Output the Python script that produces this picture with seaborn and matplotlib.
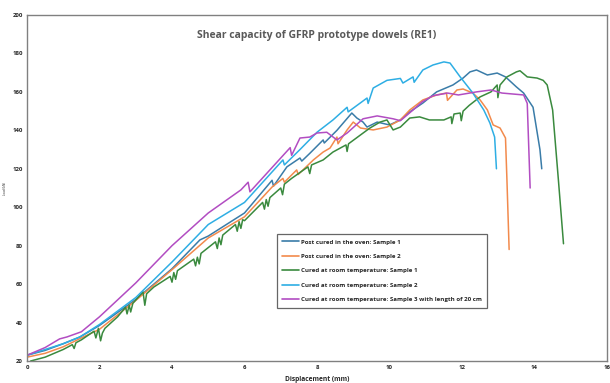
import numpy as np
import pandas as pd
import matplotlib
matplotlib.use("Agg")
import matplotlib.pyplot as plt
import seaborn as sns

labels = [
    "Post cured in the oven: Sample 1",
    "Post cured in the oven: Sample 2",
    "Cured at room temperature: Sample 1",
    "Cured at room temperature: Sample 2",
    "Cured at room temperature: Sample 3 with length of 20 cm",
]
colors = ["#3A7CA8", "#F28A4C", "#3A8A3E", "#2EAEE4", "#B24DC2"]

# Post cured S1 (dark blue)
pc1_x = [0, 0.5, 1.0, 1.46, 2.0, 3.0, 4.0, 4.77, 5.0, 6.0, 6.76, 6.8, 7.17, 7.53, 7.58, 7.8, 8.17, 8.2, 8.55,
         8.96, 9.1, 9.27, 9.38, 9.66, 10.0, 10.3, 10.56, 10.92, 11.3, 11.75, 12.03, 12.22, 12.4, 12.7, 12.97,
         13.2, 13.5, 13.7, 13.96, 14.15, 14.2]
pc1_y = [23, 25.5, 29, 32.5, 38.5, 52, 68, 83, 85, 97, 114, 111, 121, 125.6, 124, 128, 135, 133.4, 140,
         149, 146.4, 144.3, 141.7, 144.3, 142.8, 145.4, 149.6, 154.2, 160, 163.6, 167.2, 170.4, 171.4, 168.8, 169.8,
         167.8, 162.6, 159.4, 152, 130, 120]

# Post cured S2 (orange)
pc2_x = [0, 0.5, 1.0, 1.5, 2.0, 3.0, 4.0, 5.0, 6.0, 6.76, 7.06, 7.1, 7.44, 7.48, 7.9, 8.17, 8.36, 8.55, 8.58,
         8.83, 9.0, 9.2, 9.55, 9.93, 10.3, 10.56, 10.92, 11.3, 11.57, 11.6, 11.86, 12.03, 12.3, 12.5, 12.7,
         12.86, 13.05, 13.2, 13.24, 13.3]
pc2_y = [22, 24, 27.4, 32, 36.5, 51.5, 67.5, 84, 95, 110.5, 115, 113, 119.4, 117, 124.6, 128.7, 130.8, 136.5, 133,
         140.2, 144.3, 141.2, 140.2, 141.7, 145.4, 150.6, 155.8, 158.4, 159.4, 155.6, 161, 161.5, 159.4, 155.8, 150.6,
         142.8, 141.2, 136, 114, 78]

# Room temperature S1 (green)
rt1_x = [0.1, 0.5, 1.0, 1.25, 1.3, 1.35, 1.5, 1.85, 1.9, 1.97, 2.03, 2.08, 2.15, 2.5, 2.72, 2.76, 2.82, 2.86, 2.92,
         3.2, 3.25, 3.3, 3.5, 3.95, 4.0, 4.05, 4.1, 4.15, 4.6, 4.65, 4.7, 4.75, 4.8, 5.2, 5.25, 5.3, 5.35, 5.4,
         5.75, 5.8, 5.85, 5.9, 5.95, 6.0, 6.5, 6.55, 6.6, 6.65, 6.7, 7.0, 7.05, 7.1, 7.3, 7.75, 7.8, 7.85, 8.17,
         8.44, 8.8, 8.83, 8.87, 9.2, 9.46, 9.74, 9.93, 10.1, 10.3, 10.56, 10.83, 11.1, 11.5, 11.7, 11.72, 11.78,
         11.95, 11.98, 12.03, 12.2, 12.5, 12.8, 12.97, 12.99, 13.05, 13.24, 13.5, 13.6, 13.8, 14.07, 14.24, 14.35,
         14.5, 14.66, 14.8]
rt1_y = [20, 22, 26, 28.5, 26.5, 29.5, 31, 35.5, 32, 37, 30.5, 34.5, 37, 43, 48, 44.5, 49, 45.5, 50,
         56, 49, 55, 58.5, 64, 61, 66, 62.5, 67, 73, 69.5, 74, 70.5, 76, 82, 78.5, 84, 80.5, 85.5,
         91, 87.5, 92.5, 89, 93.5, 93, 102.5, 99, 104, 100.5, 105, 110, 106.5, 112, 115, 121, 117.5, 122, 124.6,
         128.7, 132.4, 129, 133, 137.6, 141.2, 144.3, 145.4, 140.2, 141.7, 146.4, 147, 145.4, 145.4, 147, 143.5, 148.5,
         149, 145, 150, 153, 157.4, 160, 163.6, 157, 163.6, 167.8, 170.4, 171, 167.8, 167.2, 166, 163.6,
         150.6, 114, 81]

# Room temperature S2 (light blue)
rt2_x = [0, 0.5, 1.0, 1.46, 2.0, 3.0, 4.0, 5.0, 6.0, 7.06, 7.1, 7.53, 8.0, 8.44, 8.83, 8.86, 9.38, 9.41, 9.55,
         9.93, 10.3, 10.37, 10.65, 10.68, 10.92, 11.2, 11.5, 11.67, 11.95, 12.3, 12.6, 12.77, 12.9, 12.95]
rt2_y = [23, 26, 29, 32.5, 39, 53, 71.5, 91, 102.5, 124.6, 122, 130, 139, 145.4, 152, 149.6, 156.8, 154, 162,
         166, 167, 164.6, 167.8, 165, 171.4, 174, 175.6, 175, 167.8, 159.4, 150.6, 143.8, 136.5, 120]

# Room temperature S3, 20 cm (purple)
rt3_x = [0, 0.5, 0.9, 1.1, 1.5, 2.0, 3.0, 4.0, 5.0, 5.9, 6.1, 6.15, 7.26, 7.3, 7.53, 7.8, 8.0, 8.27, 8.55,
         8.83, 9.27, 9.66, 10.1, 10.3, 10.65, 10.9, 11.2, 11.6, 11.9, 12.4, 12.8, 13.1, 13.7, 13.8, 13.88]
rt3_y = [23, 27, 31.5, 32.5, 35.2, 43, 60.6, 80, 97, 109, 113, 108, 131, 127, 136, 136.5, 138.6, 139, 135,
         138.6, 146, 147.5, 146, 145, 150.6, 154.8, 158, 159.4, 158.4, 160, 161, 159.4, 158.4, 154, 110]

x_ticks = [0, 2, 4, 6, 8, 10, 12, 14, 16]
y_ticks = [20, 40, 60, 80, 100, 120, 140, 160, 180, 200]

series_x = [pc1_x, pc2_x, rt1_x, rt2_x, rt3_x]
series_y = [pc1_y, pc2_y, rt1_y, rt2_y, rt3_y]
frames = []
for lab, xs, ys in zip(labels, series_x, series_y):
    frames.append(pd.DataFrame({"Displacement": xs, "Load": ys, "Series": lab}))
df = pd.concat(frames, ignore_index=True)

sns.set_theme(style="white")
plt.rcParams["font.family"] = ["Open Sans", "DejaVu Sans"]

fig = plt.figure(figsize=(6.1, 3.83), dpi=100)
ax = fig.add_axes([27 / 610, 22 / 383, 580 / 610, 346 / 383])

sns.lineplot(data=df, x="Displacement", y="Load", hue="Series", hue_order=labels,
             palette=colors, sort=False, estimator=None, units="Series", linewidth=1.1, ax=ax)

ax.set_xlim(0, 16)
ax.set_ylim(20, 200)
ax.set_xticks(x_ticks)
ax.set_yticks(y_ticks)
ax.tick_params(axis="both", labelsize=4.3, length=0, pad=3)
for t in ax.get_xticklabels() + ax.get_yticklabels():
    t.set_fontweight("bold")
for s in ax.spines.values():
    s.set_color("#808080")
    s.set_linewidth(1.0)

ax.set_xlabel("Displacement (mm)", fontsize=4.8, fontweight="bold", labelpad=4)
ax.set_ylabel("Load (kN)", fontsize=2.2)
ax.yaxis.set_label_coords(-0.034, 0.5)

ax.text(0.5, 0.942, "Shear capacity of GFRP prototype dowels (RE1)", transform=ax.transAxes,
        ha="center", va="center", fontsize=7.5, fontweight="bold", color="#595959")

leg = ax.legend(loc="upper left", bbox_to_anchor=(247 / 580, (361 - 231) / 346), fontsize=4.4,
                frameon=True, fancybox=False, edgecolor="#404040", handlelength=2.8,
                handletextpad=0.3, labelspacing=1.5, borderpad=0.85)
leg.get_frame().set_linewidth(0.9)
for t in leg.get_texts():
    t.set_fontweight("bold")
for l in leg.get_lines():
    l.set_linewidth(1.2)

fig.savefig("out.png", dpi=100)
